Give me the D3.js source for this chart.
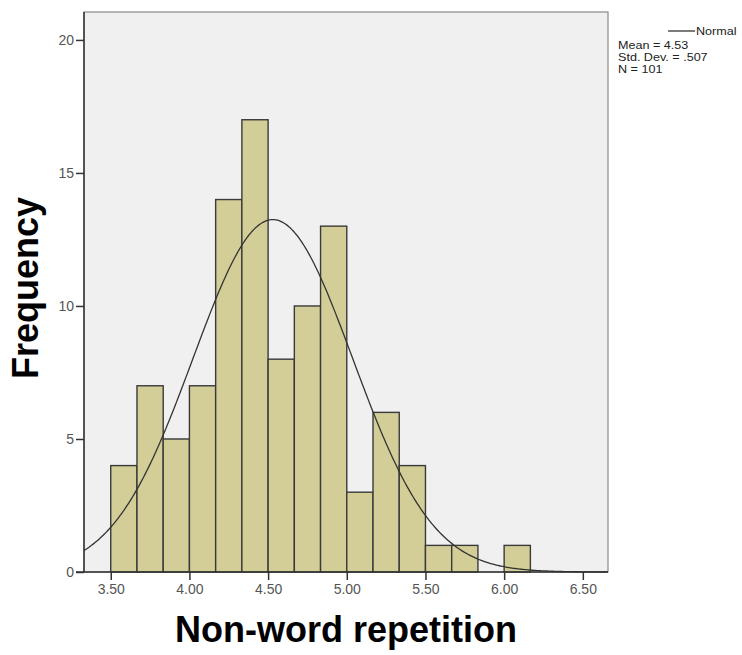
<!DOCTYPE html>
<html>
<head>
<meta charset="utf-8">
<script src="https://cdn.jsdelivr.net/npm/d3@7"></script>
<style>
  html, body { margin: 0; padding: 0; background: #ffffff; }
  svg { display: block; font-family: "Liberation Sans", Arial, sans-serif; }
</style>
</head>
<body>
<svg id="chart" width="742" height="655"></svg>
<script>
// Histogram bins: lower edge of each bin (width 1/6) and the count in it
const binStarts = [3.5, 3.6667, 3.8333, 4.0, 4.1667, 4.3333, 4.5, 4.6667,
                   4.8333, 5.0, 5.1667, 5.3333, 5.5, 5.6667, 5.8333, 6.0];
const binCounts = [4, 7, 5, 7, 14, 17, 8, 10, 13, 3, 6, 4, 1, 1, 0, 1];
const binWidth = 1 / 6;

const xTicks = [3.5, 4.0, 4.5, 5.0, 5.5, 6.0, 6.5];
const yTicks = [0, 5, 10, 15, 20];

// Summary statistics shown in the legend and used for the normal curve
const statMean = 4.53;
const statSD = 0.507;
const statN = 101;
const legendLines = ["Mean = 4.53", "Std. Dev. = .507", "N = 101"];

const svg = d3.select("#chart");
const plot = { left: 84, right: 608, top: 12, bottom: 572 };

const x = d3.scaleLinear().domain([3.33, 6.66]).range([plot.left, plot.right]);
const y = d3.scaleLinear().domain([0, 21.05]).range([plot.bottom, plot.top]);

// Plot background
svg.append("rect")
  .attr("x", plot.left).attr("y", plot.top)
  .attr("width", plot.right - plot.left).attr("height", plot.bottom - plot.top)
  .attr("fill", "#f0f0f0").attr("stroke", "#8a8a8a").attr("stroke-width", 1.2);

// Bars
svg.append("g").selectAll("rect")
  .data(binStarts.map((s, i) => ({ s, c: binCounts[i] })).filter(d => d.c > 0))
  .join("rect")
  .attr("x", d => x(d.s))
  .attr("y", d => y(d.c))
  .attr("width", d => x(d.s + binWidth) - x(d.s))
  .attr("height", d => y(0) - y(d.c))
  .attr("fill", "#d3ce98")
  .attr("stroke", "#3a3a3a")
  .attr("stroke-width", 1.4);

// Normal curve scaled to counts
const pdf = v => statN * binWidth / (statSD * Math.sqrt(2 * Math.PI)) *
  Math.exp(-0.5 * Math.pow((v - statMean) / statSD, 2));
const xs = d3.range(3.33, 6.66 + 1e-9, 0.01);
svg.append("path")
  .datum(xs)
  .attr("d", d3.line().x(v => x(v)).y(v => y(pdf(v))))
  .attr("fill", "none")
  .attr("stroke", "#333")
  .attr("stroke-width", 1.3);

// Axes
const xAxis = svg.append("g")
  .attr("transform", `translate(0,${plot.bottom})`)
  .call(d3.axisBottom(x).tickValues(xTicks).tickFormat(d3.format(".2f"))
    .tickSize(8).tickPadding(4).tickSizeOuter(0));
const yAxis = svg.append("g")
  .attr("transform", `translate(${plot.left},0)`)
  .call(d3.axisLeft(y).tickValues(yTicks).tickFormat(d3.format("d"))
    .tickSize(8).tickPadding(2).tickSizeOuter(0));

[xAxis, yAxis].forEach(g => {
  g.select(".domain").remove();
  g.selectAll(".tick line").attr("stroke", "#333").attr("stroke-width", 1.5);
  g.selectAll(".tick text").attr("fill", "#555").attr("font-size", "14px")
    .attr("font-family", "Liberation Sans, Arial, sans-serif");
});

// Axis lines
svg.append("line")
  .attr("x1", plot.left).attr("x2", plot.left)
  .attr("y1", plot.top).attr("y2", plot.bottom)
  .attr("stroke", "#333").attr("stroke-width", 1.5);
svg.append("line")
  .attr("x1", plot.left - 8).attr("x2", plot.right)
  .attr("y1", plot.bottom).attr("y2", plot.bottom)
  .attr("stroke", "#333").attr("stroke-width", 1.5);

// Axis titles
svg.append("text")
  .attr("x", (plot.left + plot.right) / 2).attr("y", 642)
  .attr("text-anchor", "middle")
  .attr("font-size", "36px").attr("font-weight", "bold").attr("fill", "#000")
  .text("Non-word repetition");
svg.append("text")
  .attr("transform", "translate(38,288) rotate(-90)")
  .attr("text-anchor", "middle")
  .attr("font-size", "36px").attr("font-weight", "bold").attr("fill", "#000")
  .text("Frequency");

// Legend: compact, slightly widened text
svg.append("line")
  .attr("x1", 668).attr("x2", 695).attr("y1", 31).attr("y2", 31)
  .attr("stroke", "#333").attr("stroke-width", 1.3);
svg.append("text")
  .attr("transform", "translate(696,35) scale(1.2,1)")
  .attr("font-size", "10.5px").attr("fill", "#222")
  .text("Normal");
svg.append("g").selectAll("text")
  .data(legendLines)
  .join("text")
  .attr("transform", (d, i) => `translate(618,${49 + i * 12}) scale(1.2,1)`)
  .attr("font-size", "10.5px").attr("fill", "#222")
  .text(d => d);
</script>
</body>
</html>
